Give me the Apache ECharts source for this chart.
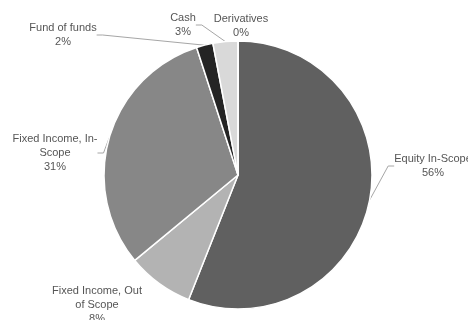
<!DOCTYPE html>
<html>
<head>
<meta charset="utf-8">
<script src="https://cdn.jsdelivr.net/npm/echarts@6/dist/echarts.min.js"></script>
<style>
  html, body { margin: 0; padding: 0; background: #ffffff; }
  #chart { width: 468px; height: 320px; }
</style>
</head>
<body>
<div id="chart"></div>
<script>
// Asset allocation shares (percent)
const categories = ['Equity In-Scope', 'Fixed Income, Out of Scope', 'Fixed Income, In-Scope', 'Fund of funds', 'Cash', 'Derivatives'];
const labelText = ['Equity In-Scope', 'Fixed Income, Out\nof Scope', 'Fixed Income, In-\nScope', 'Fund of funds', 'Cash', 'Derivatives'];
const shares = [56, 8, 31, 2, 3, 0];
const sliceColors = ['#606060', '#b3b3b3', '#878787', '#242424', '#d9d9d9', '#efefef'];
const showLeader = [true, false, true, true, true, false];

// Where each label block sits (centre x, centre y)
const labelSpot = [[433, 166], [97, 305], [55, 153], [63, 35], [183, 25], [241, 26]];

const chart = echarts.init(document.getElementById('chart'), null, { renderer: 'canvas' });

chart.setOption({
  animation: false,
  backgroundColor: '#ffffff',
  series: [{
    type: 'pie',
    center: [238, 175],
    radius: 134,
    startAngle: 90,
    clockwise: true,
    avoidLabelOverlap: false,
    minShowLabelAngle: -1,
    stillShowZeroSum: true,
    itemStyle: { borderColor: '#ffffff', borderWidth: 1.5 },
    label: {
      show: true,
      position: 'outside',
      color: '#555555',
      fontFamily: 'Liberation Sans, Arial, sans-serif',
      fontSize: 11,
      lineHeight: 14,
      align: 'center',
      formatter: p => labelText[p.dataIndex] + '\n' + p.value + '%'
    },
    labelLine: {
      show: true,
      length: 10,
      length2: 6,
      lineStyle: { color: '#a6a6a6', width: 1 }
    },
    labelLayout: p => ({
      x: labelSpot[p.dataIndex][0],
      y: labelSpot[p.dataIndex][1],
      align: 'center',
      verticalAlign: 'middle'
    }),
    data: categories.map((name, i) => ({
      name: name,
      value: shares[i],
      itemStyle: { color: sliceColors[i] },
      labelLine: { show: showLeader[i] }
    }))
  }]
});
</script>
</body>
</html>
